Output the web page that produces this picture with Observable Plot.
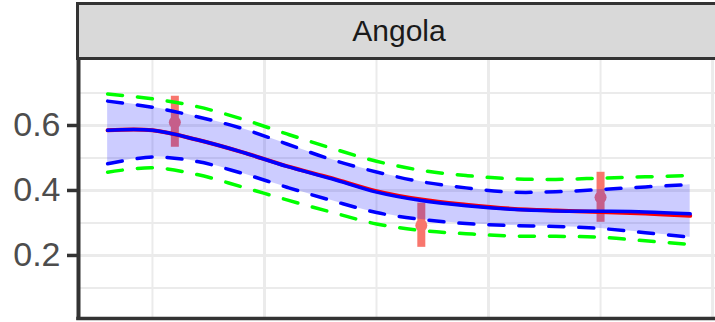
<!DOCTYPE html>
<html>
<head>
<meta charset="utf-8">
<script src="https://cdn.jsdelivr.net/npm/d3@7"></script>
<script src="https://cdn.jsdelivr.net/npm/@observablehq/plot@0.6"></script>
<style>
  html, body { margin: 0; padding: 0; width: 715px; height: 322px; overflow: hidden; background: #fff; }
  #strip {
    position: absolute; left: 76px; top: 2px;
    width: 640px; height: 52px;
    background: #D9D9D9;
    border-top: 3px solid #333; border-bottom: 3px solid #333; border-left: 3px solid #333;
    display: flex; align-items: center; justify-content: center;
    font-family: "Liberation Sans", Arial, sans-serif; font-size: 30px; color: #1A1A1A;
  }
  #chart { position: absolute; left: 0; top: 60px; }
</style>
</head>
<body>
<div id="strip">Angola</div>
<div id="chart"></div>
<script>
// ---- data ----
const facetTitle = "Angola";
const years      = [1993, 1995, 1997, 1999, 2001, 2003, 2005, 2007, 2009, 2011, 2013, 2015, 2017, 2019];
const meanFit    = [0.585, 0.585, 0.556, 0.518, 0.474, 0.436, 0.395, 0.369, 0.353, 0.342, 0.337, 0.336, 0.334, 0.328];
const altFit     = [0.585, 0.585, 0.556, 0.518, 0.475, 0.438, 0.398, 0.372, 0.356, 0.344, 0.338, 0.334, 0.329, 0.322];
const innerLow   = [0.482, 0.503, 0.489, 0.453, 0.410, 0.369, 0.332, 0.311, 0.298, 0.292, 0.289, 0.283, 0.270, 0.256];
const innerHigh  = [0.675, 0.656, 0.627, 0.591, 0.543, 0.495, 0.457, 0.427, 0.408, 0.395, 0.396, 0.403, 0.411, 0.418];
const outerLow   = [0.456, 0.470, 0.449, 0.411, 0.371, 0.333, 0.297, 0.277, 0.267, 0.260, 0.259, 0.256, 0.245, 0.234];
const outerHigh  = [0.697, 0.682, 0.658, 0.620, 0.574, 0.530, 0.490, 0.462, 0.446, 0.436, 0.434, 0.438, 0.442, 0.446];

const surveyYears = [1996, 2007, 2015];
const surveyValue = [0.610, 0.292, 0.379];
const surveyLow   = [0.533, 0.225, 0.302];
const surveyHigh  = [0.690, 0.361, 0.456];

const yMajor = [0.2, 0.4, 0.6];
const yMinor = [0.1, 0.3, 0.5, 0.7];
const xMajor = [2000, 2010, 2020];
const xMinor = [1995, 2005, 2015];

const xDomain = [1991.7, 2020.13];
const yDomain = [0.006, 0.8];

// ---- tables ----
const fit = years.map((year, i) => ({
  year, mean: meanFit[i], alt: altFit[i],
  lo: innerLow[i], hi: innerHigh[i], olo: outerLow[i], ohi: outerHigh[i]
}));
const surveys = surveyYears.map((year, i) => ({
  year, value: surveyValue[i], low: surveyLow[i], high: surveyHigh[i]
}));

const curve = "catmull-rom";
const grid = "#EBEBEB";
const salmon = "#F8766D";

const chart = Plot.plot({
  width: 715,
  height: 262,
  marginLeft: 78,
  marginRight: 0,
  marginTop: 0,
  marginBottom: 4,
  x: { domain: xDomain, axis: null },
  y: { domain: yDomain, axis: null },
  style: { fontFamily: "'Liberation Sans', Arial, sans-serif", background: "#fff", overflow: "visible" },
  marks: [
    Plot.ruleY(yMinor, { stroke: grid, strokeWidth: 2 }),
    Plot.ruleX(xMinor, { stroke: grid, strokeWidth: 2 }),
    Plot.ruleY(yMajor, { stroke: grid, strokeWidth: 3 }),
    Plot.ruleX(xMajor, { stroke: grid, strokeWidth: 3 }),
    Plot.ruleX(surveys, { x: "year", y1: "low", y2: "high", stroke: salmon, strokeWidth: 8 }),
    Plot.dot(surveys, { x: "year", y: "value", r: 6, fill: salmon, stroke: null }),
    Plot.areaY(fit, { x: "year", y1: "lo", y2: "hi", fill: "blue", fillOpacity: 0.2, curve }),
    Plot.line(fit, { x: "year", y: "alt", stroke: "red", strokeWidth: 4, curve }),
    Plot.line(fit, { x: "year", y: "mean", stroke: "blue", strokeWidth: 3.5, curve }),
    Plot.line(fit, { x: "year", y: "hi", stroke: "blue", strokeWidth: 3.5, strokeDasharray: "15,15", curve }),
    Plot.line(fit, { x: "year", y: "lo", stroke: "blue", strokeWidth: 3.5, strokeDasharray: "15,15", curve }),
    Plot.line(fit, { x: "year", y: "ohi", stroke: "#00FF00", strokeWidth: 3.5, strokeDasharray: "15,15", curve }),
    Plot.line(fit, { x: "year", y: "olo", stroke: "#00FF00", strokeWidth: 3.5, strokeDasharray: "15,15", curve }),
    Plot.ruleX([xDomain[0]], { stroke: "#333", strokeWidth: 4, strokeLinecap: "square" }),
    Plot.ruleY([yDomain[0]], { stroke: "#333", strokeWidth: 3.5, strokeLinecap: "square" }),
    Plot.axisY(yMajor, {
      anchor: "left", label: null, tickSize: 11, tickPadding: 7,
      stroke: "#333", strokeWidth: 3.5, fill: "#4D4D4D", fontSize: 34,
      tickFormat: d => d.toFixed(1)
    })
  ]
});
document.getElementById("strip").textContent = facetTitle;
document.getElementById("chart").appendChild(chart);
</script>
</body>
</html>
